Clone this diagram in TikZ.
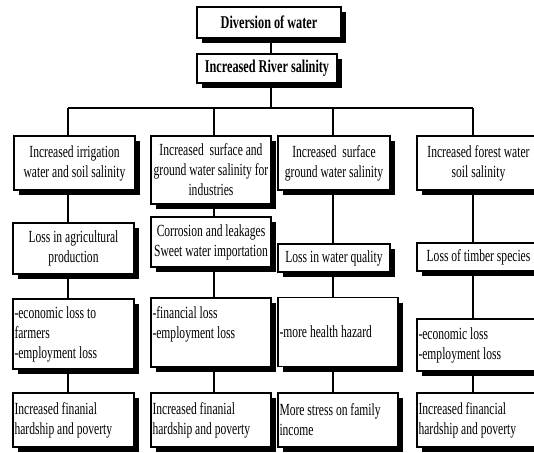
\documentclass[tikz,border=0pt]{standalone}
\usepackage{fontspec}
\setmainfont[FakeStretch=0.68]{Liberation Serif}
\usetikzlibrary{shadows}
\begin{document}
\begin{tikzpicture}[x=1pt,y=-1pt,
  box/.style={draw=black,line width=1.1pt,fill=white,inner sep=0pt,align=center,
    drop shadow={shadow xshift=5pt,shadow yshift=-5pt,fill=black,opacity=1},
    font=\fontsize{17}{20}\selectfont},
  topbox/.style={box,font=\fontsize{18}{21}\selectfont\bfseries},
  lbox/.style={box,align=flush left,inner xsep=1.5pt},
  conn/.style={draw=black,line width=1.3pt}
]
\clip (0,0) rectangle (534,452);
\fill[white] (0,0) rectangle (534,452);

% connector points
\coordinate (bus) at (271,108);
\coordinate (c1) at (68,108);
\coordinate (c2) at (214,108);
\coordinate (c3) at (333,108);
\coordinate (c4) at (473,108);

% top
\node[topbox,minimum width=144pt,minimum height=31pt] (div) at (269,22.5) {Diversion of water};
\node[topbox,minimum width=140pt,minimum height=29pt] (riv) at (267,68.5) {Increased River salinity};

% row 1
\node[box,minimum width=121pt,minimum height=54pt] (b11) at (74.5,163) {Increased irrigation\\water and soil salinity};
\node[box,minimum width=120pt,minimum height=68pt] (b12) at (211,170) {Increased\ \ surface and\\ground water salinity for\\industries};
\node[box,minimum width=112pt,minimum height=54pt] (b13) at (334,163) {Increased\ \ surface\\ground water salinity};
\node[box,minimum width=123pt,minimum height=54pt] (b14) at (478.5,163) {Increased forest water\\soil salinity};

% row 2
\node[box,minimum width=121pt,minimum height=51pt] (b21) at (73.5,248.5) {Loss in agricultural\\production};
\node[box,minimum width=120pt,minimum height=50pt] (b22) at (211,242) {Corrosion and leakages\\Sweet water importation};
\node[box,minimum width=112pt,minimum height=28pt] (b23) at (334,258) {Loss in water quality};
\node[box,minimum width=123pt,minimum height=28pt] (b24) at (478.5,257) {Loss of timber species};

% row 3
\node[lbox,text width=118pt,minimum height=70pt] (b31) at (73.5,334) {-economic loss to\\farmers\\-employment loss};
\node[lbox,text width=117pt,minimum height=69pt] (b32) at (211,332.5) {-financial loss\\-employment loss\\\mbox{}};
\node[lbox,text width=117pt,minimum height=69pt] (b33) at (338,332) {-more health hazard};
\node[lbox,text width=120pt,minimum height=52pt] (b34) at (478.5,345) {-economic loss\\-employment loss};

% row 4
\node[lbox,text width=118pt,minimum height=54pt] (b41) at (73.5,420) {Increased finanial\\hardship and poverty};
\node[lbox,text width=117pt,minimum height=54pt] (b42) at (211,420) {Increased finanial\\hardship and poverty};
\node[lbox,text width=117pt,minimum height=54pt] (b43) at (338,420) {More stress on family\\income};
\node[lbox,text width=120pt,minimum height=54pt] (b44) at (478.5,420) {Increased financial\\hardship and poverty};

% connectors
\draw[conn] (div.south -| bus) -- (riv.north -| bus);
\draw[conn] (riv.south -| bus) -- (bus);
\draw[conn] (c1) -- (c4);
\draw[conn] (c1) -- (b11.north -| c1);
\draw[conn] (c2) -- (b12.north -| c2);
\draw[conn] (c3) -- (b13.north -| c3);
\draw[conn] (c4) -- (b14.north -| c4);

\draw[conn] (b11.south -| c1) -- (b21.north -| c1);
\draw[conn] (b21.south -| c1) -- (b31.north -| c1);
\draw[conn] (b31.south -| c1) -- (b41.north -| c1);

\draw[conn] (b12.south -| c2) -- (b22.north -| c2);
\draw[conn] (b22.south -| c2) -- (b32.north -| c2);
\draw[conn] (b32.south -| c2) -- (b42.north -| c2);

\draw[conn] (b13.south -| c3) -- (b23.north -| c3);
\draw[conn] (b23.south -| c3) -- (b33.north -| c3);
\draw[conn] (b33.south -| c3) -- (b43.north -| c3);

\draw[conn] (b14.south -| c4) -- (b24.north -| c4);
\draw[conn] (b24.south -| c4) -- (b34.north -| c4);
\draw[conn] (b34.south -| c4) -- (b44.north -| c4);
\end{tikzpicture}
\end{document}
